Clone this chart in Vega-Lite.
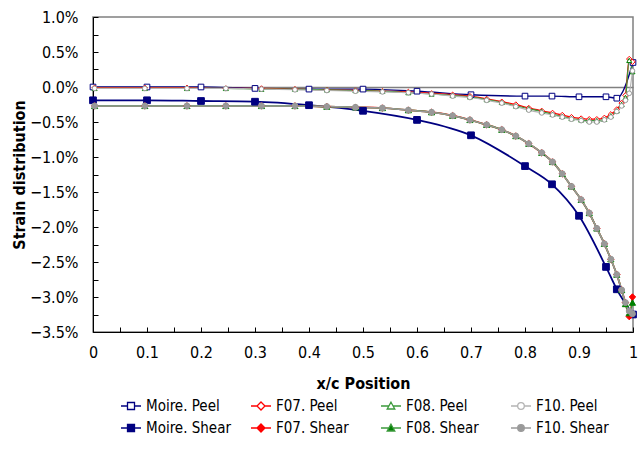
{
  "$schema": "https://vega.github.io/schema/vega-lite/v6.json",
  "width": 540,
  "height": 315,
  "autosize": {"type": "none"},
  "padding": {"left": 93, "top": 17, "right": 9, "bottom": 119},
  "config": {
    "font": "DejaVu Sans Condensed, Roboto, sans-serif",
    "view": {"stroke": "#808080", "strokeWidth": 1.5},
    "axis": {"domainColor": "#000000", "tickColor": "#000000", "labelColor": "#000000", "titleColor": "#000000", "labelFontSize": 16, "titleFontSize": 16, "titleFontWeight": "bold", "tickSize": -5, "labelOverlap": false, "labelFlush": false, "domainWidth": 1, "tickWidth": 1},
    "legend": {"labelFontSize": 15, "labelColor": "#000000"}
  },
  "data": {"values": [
    {"s": "Moire. Peel", "x": 0, "y": 0.0}, {"s": "Moire. Peel", "x": 0.1, "y": 0.0}, {"s": "Moire. Peel", "x": 0.2, "y": 0.0}, {"s": "Moire. Peel", "x": 0.3, "y": -0.02}, {"s": "Moire. Peel", "x": 0.4, "y": -0.03}, {"s": "Moire. Peel", "x": 0.5, "y": -0.03}, {"s": "Moire. Peel", "x": 0.6, "y": -0.06}, {"s": "Moire. Peel", "x": 0.7, "y": -0.11}, {"s": "Moire. Peel", "x": 0.8, "y": -0.13}, {"s": "Moire. Peel", "x": 0.85, "y": -0.13}, {"s": "Moire. Peel", "x": 0.9, "y": -0.14}, {"s": "Moire. Peel", "x": 0.95, "y": -0.14}, {"s": "Moire. Peel", "x": 0.97, "y": -0.16}, {"s": "Moire. Peel", "x": 1.0, "y": 0.35},
    {"s": "Moire. Shear", "x": 0, "y": -0.19}, {"s": "Moire. Shear", "x": 0.1, "y": -0.19}, {"s": "Moire. Shear", "x": 0.2, "y": -0.2}, {"s": "Moire. Shear", "x": 0.3, "y": -0.21}, {"s": "Moire. Shear", "x": 0.4, "y": -0.26}, {"s": "Moire. Shear", "x": 0.5, "y": -0.34}, {"s": "Moire. Shear", "x": 0.6, "y": -0.47}, {"s": "Moire. Shear", "x": 0.7, "y": -0.69}, {"s": "Moire. Shear", "x": 0.8, "y": -1.13}, {"s": "Moire. Shear", "x": 0.85, "y": -1.39}, {"s": "Moire. Shear", "x": 0.9, "y": -1.84}, {"s": "Moire. Shear", "x": 0.95, "y": -2.57}, {"s": "Moire. Shear", "x": 0.97, "y": -2.89}, {"s": "Moire. Shear", "x": 1.0, "y": -3.25},

    {"s": "F07. Peel", "x": 0.003, "y": -0.01}, {"s": "F07. Peel", "x": 0.096, "y": -0.01}, {"s": "F07. Peel", "x": 0.174, "y": -0.01}, {"s": "F07. Peel", "x": 0.246, "y": -0.02}, {"s": "F07. Peel", "x": 0.312, "y": -0.02}, {"s": "F07. Peel", "x": 0.374, "y": -0.03}, {"s": "F07. Peel", "x": 0.433, "y": -0.04}, {"s": "F07. Peel", "x": 0.486, "y": -0.05}, {"s": "F07. Peel", "x": 0.536, "y": -0.06}, {"s": "F07. Peel", "x": 0.584, "y": -0.07}, {"s": "F07. Peel", "x": 0.627, "y": -0.09}, {"s": "F07. Peel", "x": 0.666, "y": -0.11}, {"s": "F07. Peel", "x": 0.698, "y": -0.13}, {"s": "F07. Peel", "x": 0.729, "y": -0.17}, {"s": "F07. Peel", "x": 0.757, "y": -0.21}, {"s": "F07. Peel", "x": 0.783, "y": -0.25}, {"s": "F07. Peel", "x": 0.807, "y": -0.3}, {"s": "F07. Peel", "x": 0.831, "y": -0.34}, {"s": "F07. Peel", "x": 0.851, "y": -0.37}, {"s": "F07. Peel", "x": 0.869, "y": -0.4}, {"s": "F07. Peel", "x": 0.886, "y": -0.43}, {"s": "F07. Peel", "x": 0.904, "y": -0.45}, {"s": "F07. Peel", "x": 0.919, "y": -0.46}, {"s": "F07. Peel", "x": 0.933, "y": -0.46}, {"s": "F07. Peel", "x": 0.947, "y": -0.44}, {"s": "F07. Peel", "x": 0.959, "y": -0.39}, {"s": "F07. Peel", "x": 0.97, "y": -0.32}, {"s": "F07. Peel", "x": 0.979, "y": -0.23}, {"s": "F07. Peel", "x": 0.986, "y": -0.12}, {"s": "F07. Peel", "x": 0.993, "y": 0.4}, {"s": "F07. Peel", "x": 0.999, "y": 0.36},

    {"s": "F08. Peel", "x": 0.003, "y": -0.02}, {"s": "F08. Peel", "x": 0.096, "y": -0.02}, {"s": "F08. Peel", "x": 0.174, "y": -0.02}, {"s": "F08. Peel", "x": 0.246, "y": -0.02}, {"s": "F08. Peel", "x": 0.312, "y": -0.03}, {"s": "F08. Peel", "x": 0.374, "y": -0.03}, {"s": "F08. Peel", "x": 0.433, "y": -0.04}, {"s": "F08. Peel", "x": 0.486, "y": -0.05}, {"s": "F08. Peel", "x": 0.536, "y": -0.06}, {"s": "F08. Peel", "x": 0.584, "y": -0.08}, {"s": "F08. Peel", "x": 0.627, "y": -0.1}, {"s": "F08. Peel", "x": 0.666, "y": -0.12}, {"s": "F08. Peel", "x": 0.698, "y": -0.14}, {"s": "F08. Peel", "x": 0.729, "y": -0.18}, {"s": "F08. Peel", "x": 0.757, "y": -0.22}, {"s": "F08. Peel", "x": 0.783, "y": -0.27}, {"s": "F08. Peel", "x": 0.807, "y": -0.31}, {"s": "F08. Peel", "x": 0.831, "y": -0.35}, {"s": "F08. Peel", "x": 0.851, "y": -0.39}, {"s": "F08. Peel", "x": 0.869, "y": -0.42}, {"s": "F08. Peel", "x": 0.886, "y": -0.45}, {"s": "F08. Peel", "x": 0.904, "y": -0.47}, {"s": "F08. Peel", "x": 0.919, "y": -0.48}, {"s": "F08. Peel", "x": 0.933, "y": -0.48}, {"s": "F08. Peel", "x": 0.947, "y": -0.46}, {"s": "F08. Peel", "x": 0.959, "y": -0.41}, {"s": "F08. Peel", "x": 0.97, "y": -0.34}, {"s": "F08. Peel", "x": 0.979, "y": -0.25}, {"s": "F08. Peel", "x": 0.986, "y": -0.15}, {"s": "F08. Peel", "x": 0.993, "y": 0.38}, {"s": "F08. Peel", "x": 0.999, "y": 0.22},

    {"s": "F10. Peel", "x": 0.003, "y": -0.02}, {"s": "F10. Peel", "x": 0.096, "y": -0.02}, {"s": "F10. Peel", "x": 0.174, "y": -0.02}, {"s": "F10. Peel", "x": 0.246, "y": -0.02}, {"s": "F10. Peel", "x": 0.312, "y": -0.03}, {"s": "F10. Peel", "x": 0.374, "y": -0.04}, {"s": "F10. Peel", "x": 0.433, "y": -0.05}, {"s": "F10. Peel", "x": 0.486, "y": -0.06}, {"s": "F10. Peel", "x": 0.536, "y": -0.07}, {"s": "F10. Peel", "x": 0.584, "y": -0.08}, {"s": "F10. Peel", "x": 0.627, "y": -0.1}, {"s": "F10. Peel", "x": 0.666, "y": -0.13}, {"s": "F10. Peel", "x": 0.698, "y": -0.15}, {"s": "F10. Peel", "x": 0.729, "y": -0.19}, {"s": "F10. Peel", "x": 0.757, "y": -0.23}, {"s": "F10. Peel", "x": 0.783, "y": -0.28}, {"s": "F10. Peel", "x": 0.807, "y": -0.33}, {"s": "F10. Peel", "x": 0.831, "y": -0.37}, {"s": "F10. Peel", "x": 0.851, "y": -0.4}, {"s": "F10. Peel", "x": 0.869, "y": -0.43}, {"s": "F10. Peel", "x": 0.886, "y": -0.46}, {"s": "F10. Peel", "x": 0.904, "y": -0.48}, {"s": "F10. Peel", "x": 0.919, "y": -0.5}, {"s": "F10. Peel", "x": 0.933, "y": -0.5}, {"s": "F10. Peel", "x": 0.947, "y": -0.47}, {"s": "F10. Peel", "x": 0.959, "y": -0.43}, {"s": "F10. Peel", "x": 0.97, "y": -0.35}, {"s": "F10. Peel", "x": 0.979, "y": -0.27}, {"s": "F10. Peel", "x": 0.986, "y": -0.19}, {"s": "F10. Peel", "x": 0.993, "y": -0.09}, {"s": "F10. Peel", "x": 0.999, "y": 0.23},

    {"s": "F07. Shear", "x": 0.003, "y": -0.27}, {"s": "F07. Shear", "x": 0.096, "y": -0.27}, {"s": "F07. Shear", "x": 0.174, "y": -0.27}, {"s": "F07. Shear", "x": 0.246, "y": -0.27}, {"s": "F07. Shear", "x": 0.312, "y": -0.27}, {"s": "F07. Shear", "x": 0.374, "y": -0.27}, {"s": "F07. Shear", "x": 0.433, "y": -0.28}, {"s": "F07. Shear", "x": 0.486, "y": -0.29}, {"s": "F07. Shear", "x": 0.536, "y": -0.3}, {"s": "F07. Shear", "x": 0.584, "y": -0.33}, {"s": "F07. Shear", "x": 0.627, "y": -0.36}, {"s": "F07. Shear", "x": 0.666, "y": -0.41}, {"s": "F07. Shear", "x": 0.698, "y": -0.47}, {"s": "F07. Shear", "x": 0.729, "y": -0.54}, {"s": "F07. Shear", "x": 0.757, "y": -0.61}, {"s": "F07. Shear", "x": 0.783, "y": -0.7}, {"s": "F07. Shear", "x": 0.807, "y": -0.81}, {"s": "F07. Shear", "x": 0.831, "y": -0.94}, {"s": "F07. Shear", "x": 0.851, "y": -1.07}, {"s": "F07. Shear", "x": 0.869, "y": -1.24}, {"s": "F07. Shear", "x": 0.886, "y": -1.42}, {"s": "F07. Shear", "x": 0.904, "y": -1.61}, {"s": "F07. Shear", "x": 0.919, "y": -1.8}, {"s": "F07. Shear", "x": 0.933, "y": -2.02}, {"s": "F07. Shear", "x": 0.947, "y": -2.24}, {"s": "F07. Shear", "x": 0.959, "y": -2.46}, {"s": "F07. Shear", "x": 0.97, "y": -2.68}, {"s": "F07. Shear", "x": 0.979, "y": -2.9}, {"s": "F07. Shear", "x": 0.986, "y": -3.08}, {"s": "F07. Shear", "x": 0.993, "y": -3.28}, {"s": "F07. Shear", "x": 0.999, "y": -3.0},

    {"s": "F08. Shear", "x": 0.003, "y": -0.27}, {"s": "F08. Shear", "x": 0.096, "y": -0.27}, {"s": "F08. Shear", "x": 0.174, "y": -0.27}, {"s": "F08. Shear", "x": 0.246, "y": -0.27}, {"s": "F08. Shear", "x": 0.312, "y": -0.27}, {"s": "F08. Shear", "x": 0.374, "y": -0.27}, {"s": "F08. Shear", "x": 0.433, "y": -0.28}, {"s": "F08. Shear", "x": 0.486, "y": -0.29}, {"s": "F08. Shear", "x": 0.536, "y": -0.3}, {"s": "F08. Shear", "x": 0.584, "y": -0.33}, {"s": "F08. Shear", "x": 0.627, "y": -0.36}, {"s": "F08. Shear", "x": 0.666, "y": -0.41}, {"s": "F08. Shear", "x": 0.698, "y": -0.47}, {"s": "F08. Shear", "x": 0.729, "y": -0.54}, {"s": "F08. Shear", "x": 0.757, "y": -0.61}, {"s": "F08. Shear", "x": 0.783, "y": -0.7}, {"s": "F08. Shear", "x": 0.807, "y": -0.81}, {"s": "F08. Shear", "x": 0.831, "y": -0.94}, {"s": "F08. Shear", "x": 0.851, "y": -1.07}, {"s": "F08. Shear", "x": 0.869, "y": -1.24}, {"s": "F08. Shear", "x": 0.886, "y": -1.42}, {"s": "F08. Shear", "x": 0.904, "y": -1.61}, {"s": "F08. Shear", "x": 0.919, "y": -1.8}, {"s": "F08. Shear", "x": 0.933, "y": -2.02}, {"s": "F08. Shear", "x": 0.947, "y": -2.24}, {"s": "F08. Shear", "x": 0.959, "y": -2.46}, {"s": "F08. Shear", "x": 0.97, "y": -2.68}, {"s": "F08. Shear", "x": 0.979, "y": -2.9}, {"s": "F08. Shear", "x": 0.986, "y": -3.1}, {"s": "F08. Shear", "x": 0.993, "y": -3.23}, {"s": "F08. Shear", "x": 0.999, "y": -3.08},

    {"s": "F10. Shear", "x": 0.003, "y": -0.27}, {"s": "F10. Shear", "x": 0.096, "y": -0.27}, {"s": "F10. Shear", "x": 0.174, "y": -0.27}, {"s": "F10. Shear", "x": 0.246, "y": -0.27}, {"s": "F10. Shear", "x": 0.312, "y": -0.27}, {"s": "F10. Shear", "x": 0.374, "y": -0.27}, {"s": "F10. Shear", "x": 0.433, "y": -0.28}, {"s": "F10. Shear", "x": 0.486, "y": -0.29}, {"s": "F10. Shear", "x": 0.536, "y": -0.3}, {"s": "F10. Shear", "x": 0.584, "y": -0.33}, {"s": "F10. Shear", "x": 0.627, "y": -0.36}, {"s": "F10. Shear", "x": 0.666, "y": -0.41}, {"s": "F10. Shear", "x": 0.698, "y": -0.47}, {"s": "F10. Shear", "x": 0.729, "y": -0.54}, {"s": "F10. Shear", "x": 0.757, "y": -0.61}, {"s": "F10. Shear", "x": 0.783, "y": -0.7}, {"s": "F10. Shear", "x": 0.807, "y": -0.81}, {"s": "F10. Shear", "x": 0.831, "y": -0.94}, {"s": "F10. Shear", "x": 0.851, "y": -1.07}, {"s": "F10. Shear", "x": 0.869, "y": -1.24}, {"s": "F10. Shear", "x": 0.886, "y": -1.42}, {"s": "F10. Shear", "x": 0.904, "y": -1.61}, {"s": "F10. Shear", "x": 0.919, "y": -1.8}, {"s": "F10. Shear", "x": 0.933, "y": -2.02}, {"s": "F10. Shear", "x": 0.947, "y": -2.24}, {"s": "F10. Shear", "x": 0.959, "y": -2.46}, {"s": "F10. Shear", "x": 0.97, "y": -2.68}, {"s": "F10. Shear", "x": 0.979, "y": -2.9}, {"s": "F10. Shear", "x": 0.986, "y": -3.08}, {"s": "F10. Shear", "x": 0.993, "y": -3.2}, {"s": "F10. Shear", "x": 0.999, "y": -3.24}
  ]},
  "encoding": {
    "x": {"field": "x", "type": "quantitative", "scale": {"domain": [0, 1], "nice": false, "zero": false},
      "axis": {"title": "x/c Position", "grid": false, "values": [0, 0.05, 0.1, 0.15, 0.2, 0.25, 0.3, 0.35, 0.4, 0.45, 0.5, 0.55, 0.6, 0.65, 0.7, 0.75, 0.8, 0.85, 0.9, 0.95, 1], "labelExpr": "abs(datum.value*10-round(datum.value*10))<0.001 ? format(datum.value,'~g') : ''", "labelPadding": 17, "titlePadding": 15}},
    "y": {"field": "y", "type": "quantitative", "scale": {"domain": [-3.5, 1.0], "nice": false, "zero": false},
      "axis": {"title": "Strain distribution", "grid": true, "gridColor": "#808080", "gridWidth": 1.5, "gridOpacity": {"condition": {"test": "datum.value === 0", "value": 1}, "value": 0}, "values": [-3.5, -3.25, -3, -2.75, -2.5, -2.25, -2, -1.75, -1.5, -1.25, -1, -0.75, -0.5, -0.25, 0, 0.25, 0.5, 0.75, 1], "labelExpr": "abs(datum.value*2-round(datum.value*2))<0.001 ? format(datum.value,'.1f')+'%' : ''", "labelPadding": 20, "titlePadding": 2}}
  },
  "layer": [
    {"mark": {"type": "line", "interpolate": "monotone"},
      "encoding": {
        "color": {"field": "s", "type": "nominal", "scale": {"domain": ["Moire. Peel", "F07. Peel", "F08. Peel", "F10. Peel", "Moire. Shear", "F07. Shear", "F08. Shear", "F10. Shear"], "range": ["#000080", "#ff0000", "#3c9a3c", "#b4b4b4", "#000080", "#ff0000", "#3c9a3c", "#999999"]},
          "legend": {"title": null, "orient": "none", "legendX": 27, "legendY": 378, "direction": "horizontal", "columns": 4, "gridAlign": "all", "columnPadding": 17, "rowPadding": 3, "symbolSize": 400, "symbolStrokeWidth": 1.3, "labelOffset": 4, "labelLimit": 200,
            "encode": {"symbols": {"update": {
              "size": {"value": 400},
              "strokeWidth": {"value": 1.3},
              "shape": {"signal": "indexof(datum.value,'Moire')>=0 ? 'M-1,0H-0.35M0.35,0H1M-0.35,-0.35H0.35V0.35H-0.35Z' : indexof(datum.value,'F07')>=0 ? 'M-1,0H-0.4M0.4,0H1M0,-0.4L0.4,0L0,0.4L-0.4,0Z' : indexof(datum.value,'F08')>=0 ? 'M-1,0H-0.22M0.22,0H1M0,-0.38L0.38,0.3L-0.38,0.3Z' : 'M-1,0H-0.33M0.33,0H1M0.33,0A0.33,0.33,0,1,1,-0.33,0A0.33,0.33,0,1,1,0.33,0Z'"},
              "fill": {"signal": "indexof(datum.value,'Shear')>=0 ? (indexof(datum.value,'Moire')>=0 ? '#000080' : indexof(datum.value,'F07')>=0 ? '#ff0000' : indexof(datum.value,'F08')>=0 ? '#008000' : '#999999') : '#ffffff'"},
              "fillOpacity": {"value": 1}
            }}}}},
        "strokeWidth": {"field": "s", "type": "nominal", "legend": null, "scale": {"domain": ["Moire. Shear", "F07. Shear", "F08. Shear", "F10. Shear", "Moire. Peel", "F07. Peel", "F08. Peel", "F10. Peel"], "range": [1.8, 1.1, 1.1, 1.1, 1.8, 1.1, 1.1, 1.1]}}
      }},
    {"mark": {"type": "point", "opacity": 1, "fillOpacity": 1, "strokeWidth": 1},
      "encoding": {
        "shape": {"field": "s", "type": "nominal", "legend": null, "scale": {"domain": ["Moire. Shear", "F07. Shear", "F08. Shear", "F10. Shear", "Moire. Peel", "F07. Peel", "F08. Peel", "F10. Peel"], "range": ["square", "diamond", "triangle-up", "circle", "square", "diamond", "triangle-up", "circle"]}},
        "stroke": {"field": "s", "type": "nominal", "legend": null, "scale": {"domain": ["Moire. Shear", "F07. Shear", "F08. Shear", "F10. Shear", "Moire. Peel", "F07. Peel", "F08. Peel", "F10. Peel"], "range": ["#000080", "#ff0000", "#008000", "#999999", "#000080", "#ff0000", "#008000", "#999999"]}},
        "fill": {"field": "s", "type": "nominal", "legend": null, "scale": {"domain": ["Moire. Shear", "F07. Shear", "F08. Shear", "F10. Shear", "Moire. Peel", "F07. Peel", "F08. Peel", "F10. Peel"], "range": ["#000080", "#ff0000", "#008000", "#999999", "#ffffff", "#ffffff", "#ffffff", "#ffffff"]}},
        "size": {"field": "s", "type": "nominal", "legend": null, "scale": {"domain": ["Moire. Shear", "F07. Shear", "F08. Shear", "F10. Shear", "Moire. Peel", "F07. Peel", "F08. Peel", "F10. Peel"], "range": [45, 22, 30, 45, 45, 36, 30, 45]}}
      }}
  ]
}
